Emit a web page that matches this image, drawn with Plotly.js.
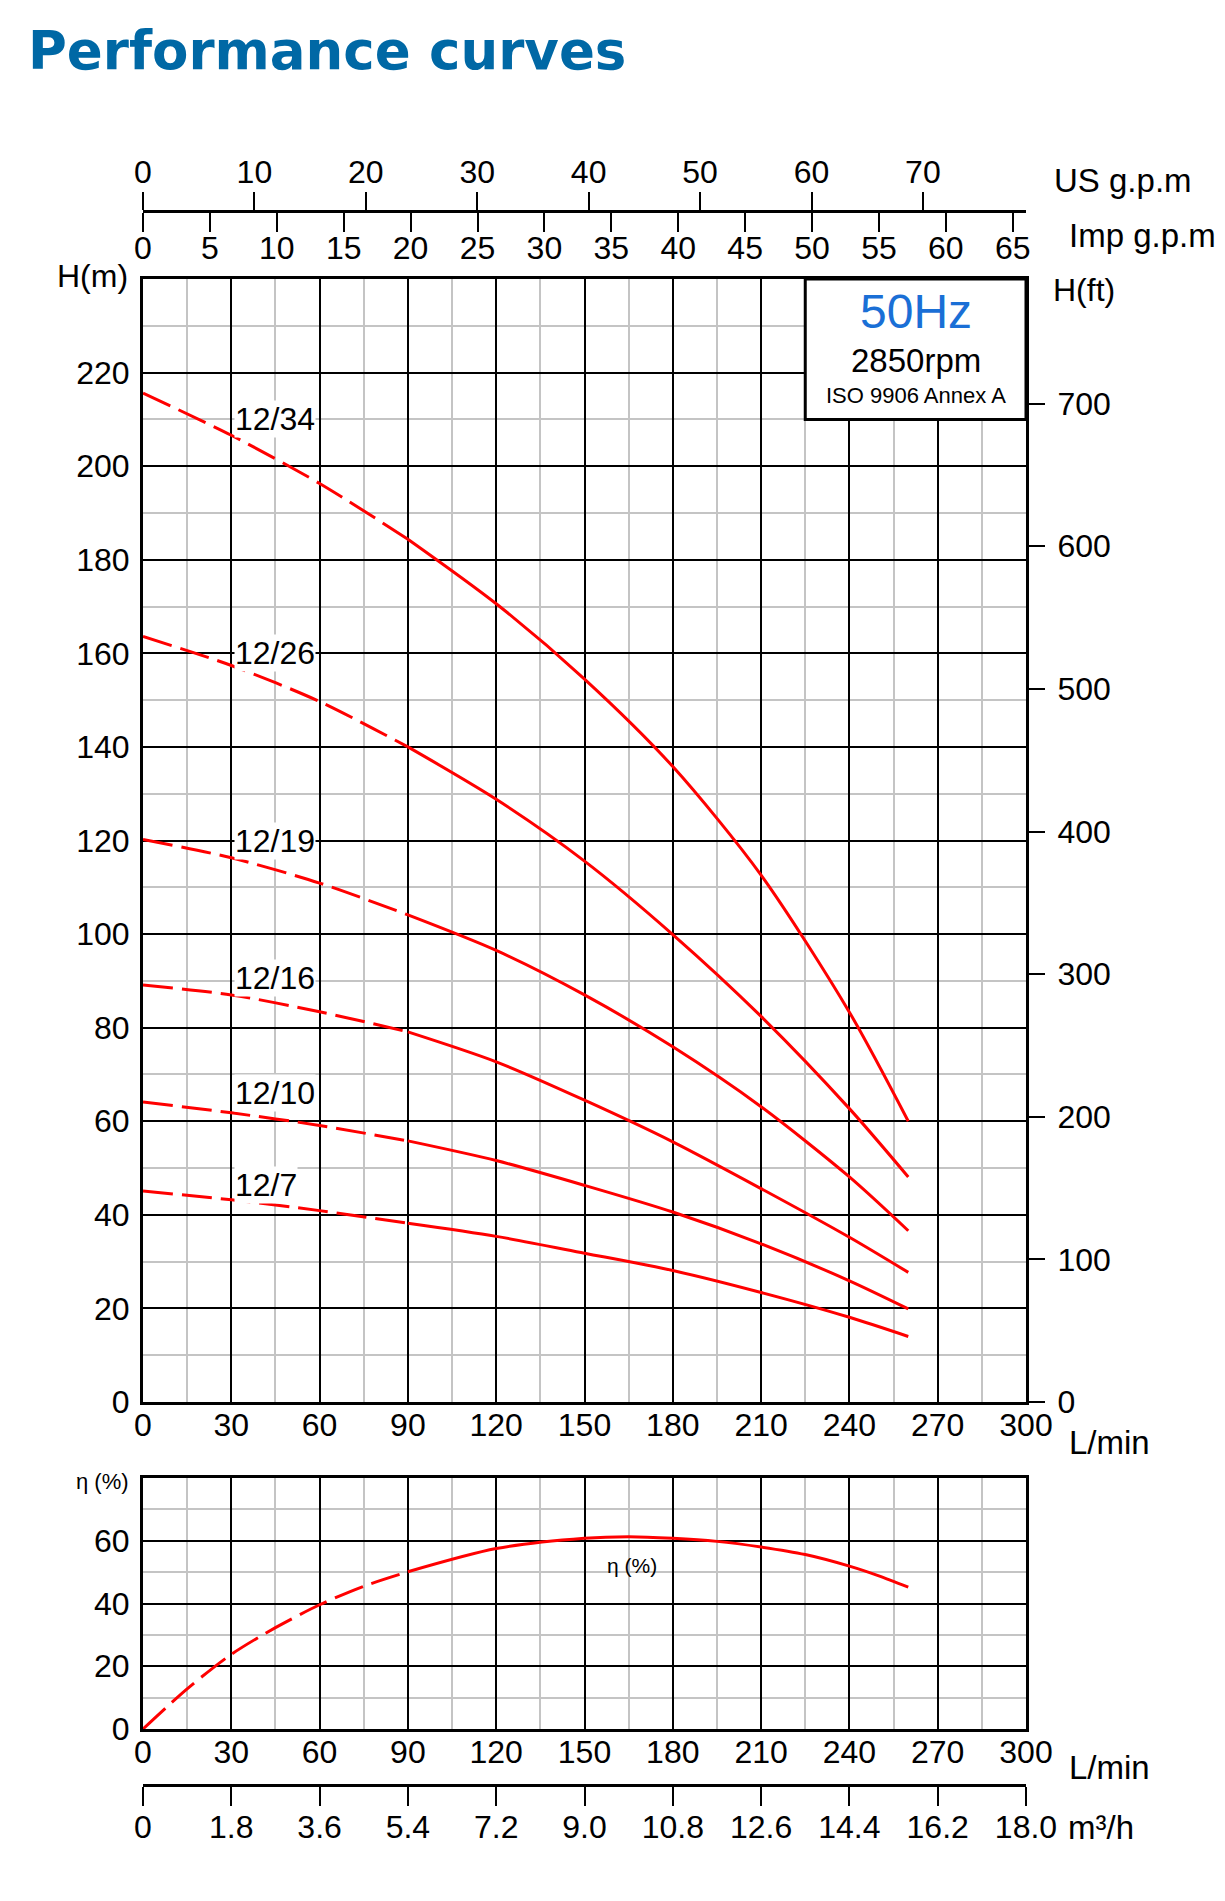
<!DOCTYPE html>
<html>
<head>
<meta charset="utf-8">
<script src="https://cdn.plot.ly/plotly-3.0.1.min.js"></script>
<style>
  body { margin: 0; background: #fff; }
  #chart { width: 1225px; height: 1901px; }
</style>
</head>
<body>
<div id="chart"></div>
<script>
// flow points (L/min)
var q = [0, 30, 60, 90, 120, 150, 180, 210, 240, 260];

// head (m) for each model
var h34 = [215.6, 206.6, 196.3, 184.4, 170.6, 154.5, 135.8, 112.6, 83.3, 60];
var h26 = [163.6, 157.4, 149.7, 140.0, 128.8, 115.6, 99.9, 82.4, 62.7, 48.1];
var h19 = [120.2, 116.3, 110.9, 104.1, 96.5, 87.0, 75.9, 63.1, 48.1, 36.6];
var h16 = [89.1, 87.0, 83.4, 79.1, 72.7, 64.5, 55.6, 45.6, 35.2, 27.7];
var h10 = [64.1, 61.8, 59.1, 55.8, 51.6, 46.3, 40.6, 33.8, 25.9, 19.9];
var h7 = [45.1, 43.2, 40.9, 38.2, 35.4, 31.8, 28.1, 23.4, 18.1, 14.0];

var models = ['12/34', '12/26', '12/19', '12/16', '12/10', '12/7'];
var heads = [h34, h26, h19, h16, h10, h7];
var labelY = [210, 160, 120, 90.6, 66, 46.4];

// efficiency curve
var qEff = [0, 15, 30, 45, 60, 75, 90, 120, 150, 165, 180, 195, 210, 225, 240, 250, 260];
var eff = [0, 12.8, 23.8, 32.3, 39.6, 45.5, 50.1, 57.5, 60.8, 61.3, 60.8, 59.8, 58.0, 55.6, 51.9, 48.8, 45.2];

// axis ticks
var lminTicks = [0, 30, 60, 90, 120, 150, 180, 210, 240, 270, 300];
var hmTicks = [0, 20, 40, 60, 80, 100, 120, 140, 160, 180, 200, 220];
var hftTicks = [0, 100, 200, 300, 400, 500, 600, 700];
var usTicks = [0, 10, 20, 30, 40, 50, 60, 70];
var impTicks = [0, 5, 10, 15, 20, 25, 30, 35, 40, 45, 50, 55, 60, 65];
var effTicks = [0, 20, 40, 60];
var m3Ticks = [0, 1.8, 3.6, 5.4, 7.2, 9.0, 10.8, 12.6, 14.4, 16.2, 18.0];
var m3Text = ['0', '1.8', '3.6', '5.4', '7.2', '9.0', '10.8', '12.6', '14.4', '16.2', '18.0'];

var dashEnd = 90;

var W = 1225, H = 1901;
var px = function (x) { return x / W; };
var py = function (y) { return 1 - y / H; };

var FONT = 'Liberation Sans, Arial, sans-serif';
var RED = '#ff0000';
var dashStyle = '30px,9px';

var data = [];
heads.forEach(function (h) {
    var dq = [], dh = [], sq = [], sh = [];
    q.forEach(function (v, i) {
        if (v <= dashEnd) { dq.push(v); dh.push(h[i]); }
        if (v >= dashEnd) { sq.push(v); sh.push(h[i]); }
    });
    data.push({ x: dq, y: dh, xaxis: 'x', yaxis: 'y', mode: 'lines', hoverinfo: 'skip',
        line: { color: RED, width: 3, dash: dashStyle, shape: 'spline', smoothing: 0.8 } });
    data.push({ x: sq, y: sh, xaxis: 'x', yaxis: 'y', mode: 'lines', hoverinfo: 'skip',
        line: { color: RED, width: 3, shape: 'spline', smoothing: 0.8 } });
});

var eq1 = [], ev1 = [], eq2 = [], ev2 = [];
qEff.forEach(function (v, i) {
    if (v <= dashEnd) { eq1.push(v); ev1.push(eff[i]); }
    if (v >= dashEnd) { eq2.push(v); ev2.push(eff[i]); }
});
data.push({ x: eq1, y: ev1, xaxis: 'x2', yaxis: 'y3', mode: 'lines', hoverinfo: 'skip',
    line: { color: RED, width: 3, dash: dashStyle, shape: 'spline', smoothing: 0.8 } });
data.push({ x: eq2, y: ev2, xaxis: 'x2', yaxis: 'y3', mode: 'lines', hoverinfo: 'skip',
    line: { color: RED, width: 3, shape: 'spline', smoothing: 0.8 } });

// empty helper traces so the secondary scales get drawn
[['x', 'y2'], ['x3', 'y'], ['x4', 'y'], ['x5', 'y3']].forEach(function (p) {
    data.push({ x: [0], y: [null], xaxis: p[0], yaxis: p[1], mode: 'lines',
        hoverinfo: 'skip', line: { width: 0 } });
});

var tickFont = { family: FONT, size: 32, color: '#000' };
var xDomain = [px(143), px(1026)];

var gridX = {
    range: [0, 300], tickvals: lminTicks, ticks: '', ticklen: 0, tickfont: tickFont,
    showgrid: true, gridcolor: '#000', gridwidth: 2,
    minor: { tickmode: 'linear', tick0: 0, dtick: 15, showgrid: true, gridcolor: '#c4c4c4', gridwidth: 2 },
    showline: true, mirror: true, linecolor: '#000', linewidth: 3,
    zeroline: false, fixedrange: true, ticklabelstandoff: -7
};

var layout = {
    width: W, height: H, autosize: false,
    margin: { l: 0, r: 0, t: 0, b: 0 },
    paper_bgcolor: '#fff', plot_bgcolor: '#fff',
    showlegend: false,
    font: { family: FONT, color: '#000' },

    xaxis: Object.assign({}, gridX, { domain: xDomain, anchor: 'y' }),
    yaxis: {
        domain: [py(1402), py(279)], range: [0, 240], anchor: 'x',
        tickvals: hmTicks, ticks: '', ticklen: 0, tickfont: tickFont, ticklabelstandoff: 4,
        showgrid: true, gridcolor: '#000', gridwidth: 2,
        minor: { tickmode: 'linear', tick0: 0, dtick: 10, showgrid: true, gridcolor: '#c4c4c4', gridwidth: 2 },
        showline: true, mirror: true, linecolor: '#000', linewidth: 3,
        zeroline: false, fixedrange: true
    },
    yaxis2: {
        overlaying: 'y', side: 'right', anchor: 'x',
        range: [0, 240 / 0.3048], tickvals: hftTicks,
        ticks: 'outside', ticklen: 18, tickwidth: 2, tickcolor: '#000',
        tickfont: tickFont, ticklabelstandoff: 6,
        showgrid: false, showline: false, zeroline: false, fixedrange: true
    },
    xaxis3: {
        overlaying: 'x', anchor: 'free', position: py(211), side: 'top',
        range: [0, 300 / 3.785411784], tickvals: usTicks,
        ticks: 'outside', ticklen: 18, tickwidth: 2, tickcolor: '#000',
        tickfont: tickFont, ticklabelstandoff: -4,
        showline: true, linecolor: '#000', linewidth: 3,
        showgrid: false, zeroline: false, fixedrange: true
    },
    xaxis4: {
        overlaying: 'x', anchor: 'free', position: py(211), side: 'bottom',
        range: [0, 300 / 4.54609], tickvals: impTicks,
        ticks: 'outside', ticklen: 19, tickwidth: 2, tickcolor: '#000',
        tickfont: tickFont, ticklabelstandoff: -11,
        showline: true, linecolor: '#000', linewidth: 3,
        showgrid: false, zeroline: false, fixedrange: true
    },

    xaxis2: Object.assign({}, gridX, { domain: xDomain, anchor: 'y3' }),
    yaxis3: {
        domain: [py(1729), py(1478)], range: [0, 80], anchor: 'x2',
        tickvals: effTicks, ticks: '', ticklen: 0, tickfont: tickFont, ticklabelstandoff: 4,
        showgrid: true, gridcolor: '#000', gridwidth: 2,
        minor: { tickmode: 'linear', tick0: 0, dtick: 10, showgrid: true, gridcolor: '#c4c4c4', gridwidth: 2 },
        showline: true, mirror: true, linecolor: '#000', linewidth: 3,
        zeroline: false, fixedrange: true
    },
    xaxis5: {
        overlaying: 'x2', anchor: 'free', position: py(1785), side: 'bottom',
        range: [0, 18], tickvals: m3Ticks, ticktext: m3Text,
        ticks: 'outside', ticklen: 19, tickwidth: 2, tickcolor: '#000',
        tickfont: tickFont, ticklabelstandoff: -6,
        showline: true, linecolor: '#000', linewidth: 3,
        showgrid: false, zeroline: false, fixedrange: true
    },

    shapes: [{
        type: 'rect', xref: 'x', yref: 'y', x0: 225, x1: 300, y0: 210, y1: 240,
        fillcolor: '#fff', line: { color: '#000', width: 3 }, layer: 'above'
    }],

    annotations: []
};

var ann = layout.annotations;
function paperText(text, x, y, xanchor, size, extra) {
    ann.push(Object.assign({
        text: text, xref: 'paper', yref: 'paper', x: px(x), y: py(y),
        xanchor: xanchor, yanchor: 'middle', showarrow: false,
        font: { family: FONT, size: size, color: '#000' }
    }, extra || {}));
}

paperText('<b>Performance curves</b>', 26, 50, 'left', 53,
    { font: { family: 'DejaVu Sans, sans-serif', size: 53, color: '#0068a5' } });
paperText('US g.p.m', 1052, 180, 'left', 33);
paperText('Imp g.p.m', 1067, 236, 'left', 33);
paperText('H(m)', 130, 276, 'right', 32);
paperText('H(ft)', 1051, 290, 'left', 32);
paperText('L/min', 1067, 1442, 'left', 33);
paperText('η (%)', 131, 1481, 'right', 22);
paperText('L/min', 1067, 1767, 'left', 33);
paperText('m³/h', 1066, 1827, 'left', 33);

models.forEach(function (m, i) {
    ann.push({
        text: m, xref: 'x', yref: 'y', x: 31, y: labelY[i],
        xanchor: 'left', yanchor: 'middle', showarrow: false,
        bgcolor: '#fff', borderpad: 0,
        font: { family: FONT, size: 32, color: '#000' }
    });
});

ann.push({
    text: 'η (%)', xref: 'x2', yref: 'y3', x: 166, y: 52,
    xanchor: 'center', yanchor: 'middle', showarrow: false,
    font: { family: FONT, size: 21, color: '#000' }
});

// rating box text
ann.push({ text: '50Hz', xref: 'x', yref: 'y', x: 262.5, y: 233, showarrow: false,
    xanchor: 'center', yanchor: 'middle', font: { family: FONT, size: 48, color: '#1a6fd6' } });
ann.push({ text: '2850rpm', xref: 'x', yref: 'y', x: 262.5, y: 222.5, showarrow: false,
    xanchor: 'center', yanchor: 'middle', font: { family: FONT, size: 33, color: '#000' } });
ann.push({ text: 'ISO 9906 Annex A', xref: 'x', yref: 'y', x: 262.5, y: 215.2, showarrow: false,
    xanchor: 'center', yanchor: 'middle', font: { family: FONT, size: 22, color: '#000' } });

Plotly.newPlot('chart', data, layout, { staticPlot: true, displayModeBar: false });
</script>
</body>
</html>
